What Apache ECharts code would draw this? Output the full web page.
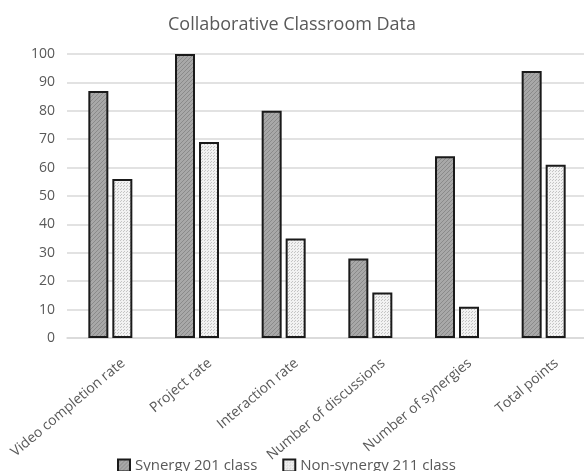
<!DOCTYPE html>
<html>
<head>
<meta charset="utf-8">
<script src="https://cdn.jsdelivr.net/npm/echarts@6/dist/echarts.min.js"></script>
<style>
  html, body { margin: 0; padding: 0; background: #fff; }
  #chart { width: 584px; height: 471px; }
</style>
</head>
<body>
<div id="chart"></div>
<script>
// Chart data
const categories = ['Video completion rate', 'Project rate', 'Interaction rate', 'Number of discussions', 'Number of synergies', 'Total points'];
const seriesNames = ['Synergy 201 class', 'Non-synergy 211 class'];
const synergyValues = [87, 100, 80, 28, 64, 94];
const nonSynergyValues = [56, 69, 35, 16, 11, 61];
const yTicks = [0, 10, 20, 30, 40, 50, 60, 70, 80, 90, 100];

// Fill patterns: diagonal hatching and fine dots
function hatchPattern() {
  const c = document.createElement('canvas');
  c.width = 4; c.height = 4;
  const g = c.getContext('2d');
  g.fillStyle = '#a8a8a8';
  g.fillRect(0, 0, 4, 4);
  g.strokeStyle = '#8a8a8a';
  g.lineWidth = 1;
  g.beginPath();
  g.moveTo(-1, 5); g.lineTo(5, -1);
  g.moveTo(-1, 1); g.lineTo(1, -1);
  g.moveTo(3, 5); g.lineTo(5, 3);
  g.stroke();
  return c;
}
function dotPattern() {
  const c = document.createElement('canvas');
  c.width = 3; c.height = 3;
  const g = c.getContext('2d');
  g.fillStyle = '#f2f2f2';
  g.fillRect(0, 0, 3, 3);
  g.fillStyle = '#c4c4c4';
  g.fillRect(0, 0, 1, 1);
  g.fillRect(1, 2, 1, 1);
  return c;
}

const textColor = '#595959';
const fontFamily = '"Open Sans", "Noto Sans", sans-serif';

const chart = echarts.init(document.getElementById('chart'), null, { renderer: 'canvas' });
chart.setOption({
  animation: false,
  backgroundColor: '#fff',
  textStyle: { fontFamily: fontFamily },
  title: {
    text: 'Collaborative Classroom Data',
    left: 'center',
    top: 11,
    textStyle: { fontFamily: fontFamily, fontSize: 18, fontWeight: 'normal', color: textColor }
  },
  legend: {
    top: 453,
    left: 112,
    itemWidth: 12,
    itemHeight: 12,
    itemGap: 25,
    icon: 'rect',
    textStyle: { fontFamily: fontFamily, fontSize: 15, color: textColor },
    data: seriesNames
  },
  grid: { left: 67, width: 520, top: 54, bottom: 133, containLabel: false, outerBoundsMode: 'none' },
  xAxis: {
    type: 'category',
    data: categories,
    axisTick: { show: false },
    axisLine: { lineStyle: { color: '#d9d9d9', width: 1.5 } },
    axisLabel: {
      interval: 0,
      rotate: 40,
      margin: 8,
      verticalAlign: 'top',
      padding: [13, 0, 0, 0],
      color: textColor,
      fontSize: 14,
      fontFamily: fontFamily
    }
  },
  yAxis: {
    type: 'value',
    min: yTicks[0],
    max: yTicks[yTicks.length - 1],
    interval: 10,
    axisLine: { show: false },
    axisTick: { show: false },
    splitLine: { lineStyle: { color: '#d9d9d9', width: 1.5 } },
    axisLabel: { color: textColor, fontSize: 14, fontFamily: fontFamily, margin: 12 }
  },
  series: [
    {
      name: seriesNames[0],
      type: 'bar',
      data: synergyValues,
      barWidth: 20,
      barGap: '20%',
      itemStyle: {
        color: { image: hatchPattern(), repeat: 'repeat' },
        borderColor: '#1a1a1a',
        borderWidth: 2
      }
    },
    {
      name: seriesNames[1],
      type: 'bar',
      data: nonSynergyValues,
      barWidth: 20,
      barGap: '20%',
      itemStyle: {
        color: { image: dotPattern(), repeat: 'repeat' },
        borderColor: '#1a1a1a',
        borderWidth: 2
      }
    }
  ]
});
</script>
</body>
</html>
